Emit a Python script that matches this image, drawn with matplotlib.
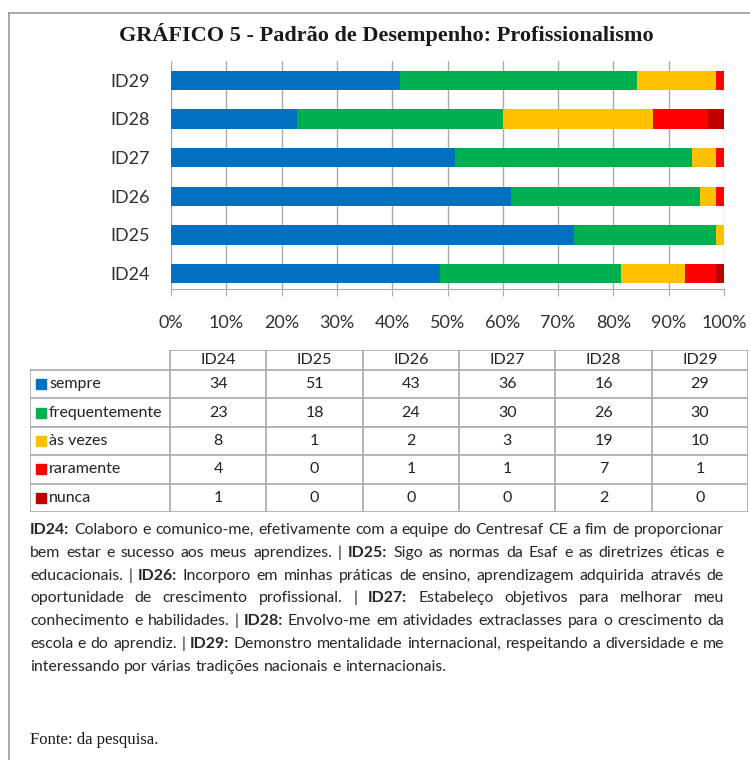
import matplotlib
matplotlib.use('Agg')
import matplotlib.pyplot as plt
from matplotlib.lines import Line2D
from matplotlib.patches import Rectangle
import numpy as np

# data (counts, 70 answers per item)
items = ['ID24', 'ID25', 'ID26', 'ID27', 'ID28', 'ID29']
categories = ['sempre', 'frequentemente', 'às vezes', 'raramente', 'nunca']
sempre = [34, 51, 43, 36, 16, 29]
frequentemente = [23, 18, 24, 30, 26, 30]
as_vezes = [8, 1, 2, 3, 19, 10]
raramente = [4, 0, 1, 1, 7, 1]
nunca = [1, 0, 0, 0, 2, 0]
colors = ['#0070C0', '#00B050', '#FFC000', '#FF0000', '#C00000']
xtick_labels = ['0%', '10%', '20%', '30%', '40%', '50%', '60%', '70%', '80%', '90%', '100%']

title = 'GRÁFICO 5 - Padrão de Desempenho: Profissionalismo'
caption = [
    [('ID24:', True), (' Colaboro e comunico-me, efetivamente com a equipe do Centresaf CE a fim de proporcionar', False)],
    [('bem estar e sucesso aos meus aprendizes. | ', False), ('ID25:', True), (' Sigo as normas da Esaf e as diretrizes éticas e', False)],
    [('educacionais. | ', False), ('ID26:', True), (' Incorporo em minhas práticas de ensino, aprendizagem adquirida através de', False)],
    [('oportunidade de crescimento profissional. | ', False), ('ID27:', True), (' Estabeleço objetivos para melhorar meu', False)],
    [('conhecimento e habilidades. | ', False), ('ID28:', True), (' Envolvo-me em atividades extraclasses para o crescimento da', False)],
    [('escola e do aprendiz. | ', False), ('ID29:', True), (' Demonstro mentalidade internacional, respeitando a diversidade e me', False)],
    [('interessando por várias tradições nacionais e internacionais.', False)],
]
source = 'Fonte: da pesquisa.'

W, H = 750, 760
SANS = ['Lato', 'DejaVu Sans']

fig = plt.figure(figsize=(7.5, 7.6), dpi=100)


def fx(px):
    return px / W


def fy(py):
    return 1 - py / H


# outer frame (left and top edges visible)
fig.add_artist(Line2D([fx(9), fx(9)], [fy(13), fy(760)], color='#9A9A9A', lw=1.2))
fig.add_artist(Line2D([fx(9), fx(750)], [fy(13), fy(13)], color='#9A9A9A', lw=1.2))

fig.text(fx(386), fy(35), title, family='Liberation Serif', weight='bold',
         fontsize=16, ha='center', va='center', color='#1a1a1a')

# stacked 100% bars
series = [sempre, frequentemente, as_vezes, raramente, nunca]
totals = np.sum(series, axis=0)
ax = fig.add_axes([fx(171), fy(289), fx(724) - fx(171), fy(61) - fy(289)])
y = np.arange(len(items))
left = np.zeros(len(items))
for vals, c in zip(series, colors):
    frac = np.array(vals) / totals
    ax.barh(y, frac, left=left, height=0.5, color=c, zorder=3)
    left += frac
ax.set_xlim(0, 1)
ax.set_ylim(-0.4, 5.5)
ax.set_xticks(np.linspace(0, 1, 11))
ax.set_xticklabels(xtick_labels, family=SANS, fontsize=13, color='#303030')
ax.set_yticks(y)
ax.set_yticklabels(items, family=SANS, fontsize=13, color='#303030')
ax.grid(axis='x', color='#AAAAAA', lw=1, zorder=0)
for s in ['top', 'right', 'left']:
    ax.spines[s].set_visible(False)
ax.spines['bottom'].set_color('#AAAAAA')
ax.tick_params(axis='x', length=5, color='#AAAAAA', pad=14)
ax.tick_params(axis='y', length=0, pad=15)

# data table
tab = fig.add_axes([fx(30), fy(512), fx(748) - fx(30), fy(350) - fy(512)])
tab.set_xlim(0, 718)
tab.set_ylim(162, 0)
tab.axis('off')
lc = '#A8A8A8'
lab_w = 140
col_w = (718 - lab_w) / len(items)
head_h = 20
row_h = (162 - head_h) / len(categories)
tab.plot([lab_w, 718], [0, 0], color=lc, lw=1.2)
for i in range(len(categories) + 1):
    yy = head_h + i * row_h
    tab.plot([0, 718], [yy, yy], color=lc, lw=1.2)
tab.plot([0, 0], [head_h, 162], color=lc, lw=1.2)
for j in range(len(items) + 1):
    xx = lab_w + j * col_w
    tab.plot([xx, xx], [0, 162], color=lc, lw=1.2)
for j, it in enumerate(items):
    tab.text(lab_w + (j + 0.5) * col_w, head_h / 2, it, family=SANS, fontsize=11.5,
             ha='center', va='center', color='#222222')
for i, (cat, vals, c) in enumerate(zip(categories, series, colors)):
    yc = head_h + (i + 0.5) * row_h
    tab.add_patch(Rectangle((6, yc - 5), 10, 10, color=c))
    tab.text(19, yc, cat, family=SANS, fontsize=11.5, ha='left', va='center', color='#222222')
    for j, v in enumerate(vals):
        tab.text(lab_w + (j + 0.5) * col_w, yc, str(v), family=SANS, fontsize=11.5,
                 ha='center', va='center', color='#222222')

# justified caption
renderer = fig.canvas.get_renderer()
x0, x1 = 30, 724


def words_of(line):
    out = []
    for txt, bold in line:
        for w in txt.split():
            out.append((w, bold))
    return out


def width_of(word, bold, size):
    t = fig.text(0, 0, word, family=SANS, fontsize=size, weight='bold' if bold else 'normal')
    wd = t.get_window_extent(renderer).width
    t.remove()
    return wd


base = 12
sp = width_of('a b', False, base) - width_of('ab', False, base)
natural = []
for line in caption[:-1]:
    ws = words_of(line)
    natural.append(sum(width_of(w, b, base) for w, b in ws) + sp * (len(ws) - 1))
size = min(base, base * (x1 - x0) / max(natural) * 0.99)
sp = width_of('a b', False, size) - width_of('ab', False, size)

line_y = [530, 553, 576, 598, 621, 644, 667]
for k, line in enumerate(caption):
    ws = words_of(line)
    wds = [width_of(w, b, size) for w, b in ws]
    if k < len(caption) - 1:
        gap = (x1 - x0 - sum(wds)) / (len(ws) - 1)
    else:
        gap = sp
    xx = x0
    for (w, b), wd in zip(ws, wds):
        fig.text(fx(xx), fy(line_y[k]), w, family=SANS, fontsize=size,
                 weight='bold' if b else 'normal', ha='left', va='center', color='#262626')
        xx += wd + gap

fig.text(fx(30), fy(740), source, family='Liberation Serif', fontsize=12,
         ha='left', va='center', color='#1a1a1a')

fig.savefig('out.png', dpi=100)
